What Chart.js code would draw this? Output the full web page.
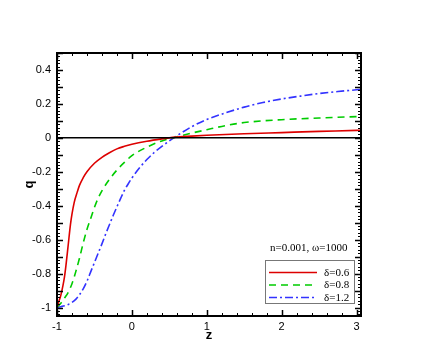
<!DOCTYPE html>
<html>
<head>
<meta charset="utf-8">
<script src="https://cdn.jsdelivr.net/npm/chart.js@4/dist/chart.umd.min.js"></script>
<style>
  html, body { margin: 0; padding: 0; background: #fff; }
  #wrap { width: 436px; height: 357px; position: relative; }
</style>
</head>
<body>
<div id="wrap"><canvas id="c" width="436" height="357"></canvas></div>
<script>
// ---- data ----
const legendTitle = "n=0.001, \u03c9=1000";
const seriesLabels = ["\u03b4=0.6", "\u03b4=0.8", "\u03b4=1.2"];

const zRed = [-1, -0.98, -0.95, -0.92, -0.9, -0.88, -0.85, -0.82, -0.8, -0.77, -0.73, -0.7, -0.65, -0.6, -0.5, -0.4, -0.3, -0.2, -0.1, 0, 0.2, 0.4, 0.5, 0.6, 0.8, 1, 1.25, 1.5, 2, 2.5, 3, 3.06];
const qRed = [-1.0, -0.97, -0.93, -0.87, -0.82, -0.75, -0.63, -0.51, -0.45, -0.38, -0.32, -0.28, -0.235, -0.2, -0.15, -0.115, -0.088, -0.065, -0.05, -0.038, -0.02, -0.006, 0.0, 0.004, 0.01, 0.015, 0.02, 0.024, 0.031, 0.038, 0.044, 0.045];

const zGreen = [-1, -0.97, -0.93, -0.9, -0.85, -0.8, -0.75, -0.7, -0.65, -0.6, -0.55, -0.5, -0.45, -0.4, -0.3, -0.2, -0.1, 0, 0.2, 0.4, 0.5, 0.6, 0.8, 1, 1.25, 1.5, 2, 2.5, 3, 3.06];
const qGreen = [-1.0, -0.985, -0.965, -0.945, -0.91, -0.86, -0.79, -0.71, -0.62, -0.54, -0.475, -0.41, -0.355, -0.312, -0.245, -0.19, -0.145, -0.105, -0.055, -0.018, -0.005, 0.006, 0.028, 0.048, 0.072, 0.09, 0.107, 0.117, 0.125, 0.126];

const zBlue = [-1, -0.95, -0.9, -0.85, -0.8, -0.75, -0.7, -0.65, -0.6, -0.55, -0.5, -0.45, -0.4, -0.35, -0.3, -0.25, -0.2, -0.15, -0.1, -0.05, 0, 0.1, 0.2, 0.3, 0.4, 0.5, 0.6, 0.8, 1, 1.25, 1.5, 1.75, 2, 2.25, 2.5, 2.75, 3, 3.06];
const qBlue = [-1.0, -0.995, -0.99, -0.982, -0.97, -0.952, -0.925, -0.89, -0.845, -0.79, -0.735, -0.68, -0.625, -0.567, -0.512, -0.458, -0.407, -0.357, -0.31, -0.272, -0.237, -0.178, -0.128, -0.086, -0.05, -0.018, 0.012, 0.066, 0.108, 0.147, 0.181, 0.208, 0.229, 0.246, 0.261, 0.273, 0.283, 0.285];

const zeroLineZ = [-1, 3.06];
const zeroLineQ = [0, 0];

const xTicks = [-1, 0, 1, 2, 3];
const xTickLabels = ["-1", "0", "1", "2", "3"];
const yTicks = [0.4, 0.2, 0, -0.2, -0.4, -0.6, -0.8, -1];
const yTickLabels = ["0.4", "0.2", "0", "-0.2", "-0.4", "-0.6", "-0.8", "-1"];

// ---- build ----
const pts = (xs, ys) => xs.map((x, i) => ({ x: x, y: ys[i] }));

const tickPlugin = {
  id: 'tecTicks',
  afterDraw(chart) {
    const { ctx, chartArea: a, scales } = chart;
    const xs = scales.x, ys = scales.y;
    ctx.save();
    ctx.strokeStyle = '#000';
    ctx.lineWidth = 1;
    // x ticks, every 0.2, major at integers
    for (let k = -5; k <= 15; k++) {
      const v = k * 0.2;
      const px = Math.round(xs.getPixelForValue(v)) + 0.5;
      if (px < a.left || px > a.right) continue;
      const len = (k % 5 === 0) ? 6 : 3;
      ctx.lineWidth = (k % 5 === 0) ? 1.5 : 1;
      ctx.beginPath();
      ctx.moveTo(px, a.bottom); ctx.lineTo(px, a.bottom - len);
      ctx.moveTo(px, a.top); ctx.lineTo(px, a.top + len);
      ctx.stroke();
    }
    // y ticks, every 0.02, major every 0.1
    for (let k = -52; k <= 25; k++) {
      const v = k * 0.02;
      const py = Math.round(ys.getPixelForValue(v)) + 0.5;
      if (py < a.top || py > a.bottom) continue;
      const major = (k % 5 === 0);
      const len = major ? 6 : 3;
      ctx.lineWidth = major ? 1.5 : 1;
      ctx.beginPath();
      ctx.moveTo(a.left, py); ctx.lineTo(a.left + len, py);
      ctx.moveTo(a.right, py); ctx.lineTo(a.right - len, py);
      ctx.stroke();
    }
    // frame
    ctx.lineWidth = 2;
    ctx.strokeRect(a.left, a.top, a.right - a.left, a.bottom - a.top);

    // legend
    const bx = 265.5, by = 260.5, bw = 89, bh = 43;
    ctx.font = '11px "Liberation Serif", "Times New Roman", serif';
    ctx.fillStyle = '#000';
    ctx.textBaseline = 'middle';
    ctx.textAlign = 'left';
    ctx.fillText(legendTitle, 270, 248);
    ctx.lineWidth = 1;
    ctx.strokeStyle = '#777';
    ctx.strokeRect(bx, by, bw, bh);
    const ds = chart.data.datasets.filter(d => d.inLegend);
    const rows = [272.5, 285, 297.5];
    ds.forEach((d, i) => {
      ctx.save();
      ctx.strokeStyle = d.borderColor;
      ctx.lineWidth = d.borderWidth;
      ctx.setLineDash(d.borderDash || []);
      ctx.beginPath();
      ctx.moveTo(269, rows[i]); ctx.lineTo(317, rows[i]);
      ctx.stroke();
      ctx.restore();
      ctx.fillStyle = '#000';
      ctx.fillText(d.label, 324, rows[i] + 0.5);
    });
    ctx.restore();
  }
};

const tickFont = { family: '"Liberation Sans", Arial, sans-serif', size: 11 };
const titleFont = { family: '"Liberation Sans", Arial, sans-serif', size: 13, weight: 'bold' };

new Chart(document.getElementById('c'), {
  type: 'line',
  data: {
    datasets: [
      { label: 'zero', data: pts(zeroLineZ, zeroLineQ), borderColor: '#000', borderWidth: 1.5, pointRadius: 0, inLegend: false },
      { label: seriesLabels[0], data: pts(zRed, qRed), borderColor: '#dd0000', borderWidth: 1.6, pointRadius: 0, cubicInterpolationMode: 'monotone', inLegend: true },
      { label: seriesLabels[1], data: pts(zGreen, qGreen), borderColor: '#00cc00', borderWidth: 1.6, borderDash: [7, 5], pointRadius: 0, cubicInterpolationMode: 'monotone', inLegend: true },
      { label: seriesLabels[2], data: pts(zBlue, qBlue), borderColor: '#3333ff', borderWidth: 1.6, borderDash: [8, 3, 2, 3], pointRadius: 0, cubicInterpolationMode: 'monotone', inLegend: true }
    ]
  },
  options: {
    responsive: false,
    animation: false,
    parsing: true,
    layout: { padding: { top: 53, right: 75, left: 0, bottom: 0 } },
    plugins: { legend: { display: false }, tooltip: { enabled: false } },
    scales: {
      x: {
        type: 'linear', min: -1, max: 3.06,
        grid: { display: false, drawTicks: false },
        border: { display: false },
        afterBuildTicks: ax => { ax.ticks = xTicks.map(v => ({ value: v })); },
        afterFit: ax => { ax.height = 41; },
        ticks: {
          color: '#000', font: tickFont, padding: 4, maxRotation: 0, autoSkip: false,
          callback: (v) => { const i = xTicks.indexOf(v); return i >= 0 ? xTickLabels[i] : ''; }
        },
        title: { display: true, text: 'z', color: '#000', font: titleFont, padding: { top: 0, bottom: 14 } }
      },
      y: {
        type: 'linear', min: -1.05, max: 0.5,
        grid: { display: false, drawTicks: false },
        border: { display: false },
        afterBuildTicks: ax => { ax.ticks = yTicks.map(v => ({ value: v })); },
        afterFit: ax => { ax.width = 57; },
        ticks: {
          color: '#000', font: tickFont, padding: 6, autoSkip: false,
          callback: (v) => { const i = yTicks.indexOf(v); return i >= 0 ? yTickLabels[i] : ''; }
        },
        title: { display: true, text: 'q', color: '#000', font: titleFont, padding: { top: 22, bottom: 0 } }
      }
    }
  },
  plugins: [tickPlugin]
});
</script>
</body>
</html>
